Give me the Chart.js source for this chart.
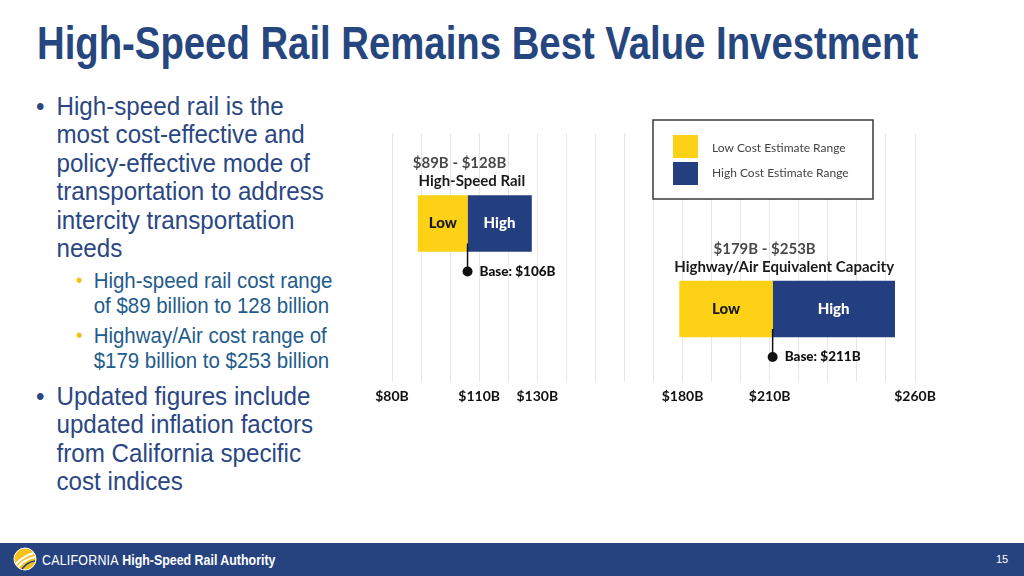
<!DOCTYPE html>
<html>
<head>
<meta charset="utf-8">
<script src="https://cdn.jsdelivr.net/npm/chart.js@4"></script>
<style>
  body { margin: 0; width: 1024px; height: 576px; background: #fff; position: relative; overflow: hidden; font-family: "Liberation Sans", Arial, sans-serif; }
  .title { position: absolute; left: 37px; top: 19px; font-weight: bold; font-size: 47px; line-height: 1; color: #26467f; white-space: nowrap; transform: scaleX(0.815); transform-origin: left top; }
  .txt { position: absolute; white-space: nowrap; transform: scaleX(0.93); transform-origin: left top; }
  .main { left: 36px; font-size: 26px; line-height: 28.4px; color: #2a4784; }
  .sub { left: 76px; font-size: 22px; line-height: 25px; color: #1f5c8c; }
  .item { position: relative; padding-left: 22px; }
  .main .item::before { content: "\2022"; position: absolute; left: 0; }
  .sub .item { padding-left: 19px; }
  .sub .item::before { content: "\2022"; position: absolute; left: 0; color: #f2c318; font-size: 20px; }
  #wrap { position: absolute; left: 360px; top: 110px; width: 600px; height: 310px; }
  .footer { position: absolute; left: 0; top: 543px; width: 1024px; height: 33px; background: #27437f; color: #fff; }
  .brand { position: absolute; left: 42px; top: 8px; font-size: 15.5px; white-space: nowrap; transform: scaleX(0.8); transform-origin: left top; }
  .brand span { font-weight: 300; letter-spacing: 0.3px; }
  .brand b { font-weight: bold; }
  .page { position: absolute; left: 996px; top: 10px; font-size: 11px; }
  .logo { position: absolute; left: 13px; top: 4px; }
</style>
</head>
<body>
<div class="title">High-Speed Rail Remains Best Value Investment</div>

<div class="txt main" style="top:92px;">
  <div class="item">High-speed rail is the<br>most cost-effective and<br>policy-effective mode of<br>transportation to address<br>intercity transportation<br>needs</div>
</div>
<div class="txt sub" style="top:268px;">
  <div class="item">High-speed rail cost range<br>of $89 billion to 128 billion</div>
</div>
<div class="txt sub" style="top:323px;">
  <div class="item">Highway/Air cost range of<br>$179 billion to $253 billion</div>
</div>
<div class="txt main" style="top:382px;">
  <div class="item">Updated figures include<br>updated inflation factors<br>from California specific<br>cost indices</div>
</div>

<div id="wrap"><canvas id="chart"></canvas></div>

<div class="footer">
  <svg class="logo" width="24" height="24" viewBox="0 0 24 24">
    <circle cx="12" cy="12" r="11" fill="#f3c21b" stroke="#fff" stroke-width="1"/>
    <path d="M3 17 Q10 9 21 6" stroke="#fff" stroke-width="2.2" fill="none"/>
    <path d="M5 20 Q12 12 22 10" stroke="#fff" stroke-width="2" fill="none"/>
    <path d="M9 22 Q14 15 22 14" stroke="#27437f" stroke-width="1.6" fill="none"/>
  </svg>
  <div class="brand"><span>CALIFORNIA</span> <b>High-Speed Rail Authority</b></div>
  <div class="page">15</div>
</div>

<script>
// Data
const rows = ['High-Speed Rail', 'Highway/Air Equivalent Capacity'];
const lowCost = [89, 179];
const baseCost = [106, 211];
const highCost = [128, 253];
const xTicks = [80, 110, 130, 180, 210, 260];
const legendLabels = ['Low Cost Estimate Range', 'High Cost Estimate Range'];

const yellow = '#fcd116';
const blue = '#233f80';

// labels, base markers and the boxed legend
const annotate = {
    id: 'annotate',
    afterDatasetsDraw(chart) {
        const ctx = chart.ctx;
        const x = chart.scales.x;
        const lowMeta = chart.getDatasetMeta(0);
        ctx.save();
        rows.forEach((name, i) => {
            const bar = lowMeta.data[i];
            const top = bar.y - bar.height / 2;
            const bottom = bar.y + bar.height / 2;
            const left = x.getPixelForValue(lowCost[i]);
            const right = x.getPixelForValue(highCost[i]);
            const mid = x.getPixelForValue(baseCost[i]);

            ctx.textAlign = 'center';
            ctx.textBaseline = 'middle';
            ctx.font = 'bold 15px Lato';
            ctx.fillStyle = '#4a4a4a';
            ctx.fillText('$' + lowCost[i] + 'B - $' + highCost[i] + 'B', mid - 8, top - 32);
            ctx.fillStyle = '#1a1a1a';
            ctx.fillText(name, (left + right) / 2 - 3, top - 14);

            ctx.font = '900 15px Lato';
            ctx.fillStyle = '#1a1a1a';
            ctx.fillText('Low', (left + mid) / 2, bar.y);
            ctx.fillStyle = '#ffffff';
            ctx.fillText('High', (mid + right) / 2, bar.y);

            // base marker
            ctx.strokeStyle = '#111';
            ctx.lineWidth = 1.5;
            ctx.beginPath();
            ctx.moveTo(mid, bottom - 8);
            ctx.lineTo(mid, bottom + 20);
            ctx.stroke();
            ctx.fillStyle = '#111';
            ctx.beginPath();
            ctx.arc(mid, bottom + 20, 5, 0, Math.PI * 2);
            ctx.fill();
            ctx.textAlign = 'left';
            ctx.font = '900 13.5px Lato';
            ctx.fillText('Base: $' + baseCost[i] + 'B', mid + 12, bottom + 20);
        });

        // legend box
        const bx = 293, by = 10, bw = 220, bh = 79;
        ctx.fillStyle = '#fff';
        ctx.fillRect(bx, by, bw, bh);
        ctx.strokeStyle = '#3a3a3a';
        ctx.lineWidth = 1.5;
        ctx.strokeRect(bx, by, bw, bh);
        const colors = [yellow, blue];
        legendLabels.forEach((lab, k) => {
            ctx.fillStyle = colors[k];
            ctx.fillRect(bx + 20, by + 15 + k * 27, 25, 23);
            ctx.fillStyle = '#444';
            ctx.font = '12px Lato';
            ctx.textAlign = 'left';
            ctx.textBaseline = 'middle';
            ctx.fillText(lab, bx + 59, by + 28 + k * 25);
        });
        ctx.restore();
    }
};

new Chart(document.getElementById('chart'), {
    type: 'bar',
    data: {
        datasets: [{
            label: legendLabels[0],
            data: rows.map((r, i) => ({ x: [lowCost[i], baseCost[i]], y: i })),
            backgroundColor: yellow
        }, {
            label: legendLabels[1],
            data: rows.map((r, i) => ({ x: [baseCost[i], highCost[i]], y: i })),
            backgroundColor: blue
        }]
    },
    options: {
        indexAxis: 'y',
        responsive: true,
        maintainAspectRatio: false,
        animation: false,
        barThickness: 56,
        grouped: false,
        layout: { padding: { left: 32, right: 45, top: 23, bottom: 15 } },
        plugins: { legend: { display: false }, tooltip: { enabled: false } },
        scales: {
            x: {
                type: 'linear',
                min: 80,
                max: 260,
                afterFit: scale => { scale.height = 23; },
                grid: { color: '#e6e6e6', drawTicks: false },
                border: { display: false },
                ticks: {
                    stepSize: 10,
                    autoSkip: false,
                    maxRotation: 0,
                    padding: 6,
                    color: '#111',
                    font: { family: 'Lato', weight: 'bold', size: 14 },
                    callback: v => xTicks.includes(v) ? '$' + v + 'B' : ''
                }
            },
            y: {
                type: 'linear',
                reverse: true,
                offset: false,
                min: -1.058,
                max: 1.854,
                display: false
            }
        }
    },
    plugins: [annotate]
});
</script>
</body>
</html>
